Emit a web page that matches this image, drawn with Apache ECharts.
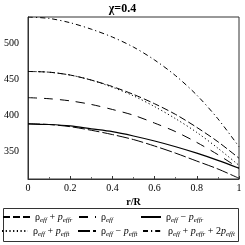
<!DOCTYPE html>
<html><head><meta charset="utf-8">
<script src="https://cdn.jsdelivr.net/npm/echarts@6/dist/echarts.min.js"></script>
<style>html,body{margin:0;padding:0;background:#fff}#c{width:245px;height:245px}</style>
</head><body><div id="c"></div>
<script>
const rValues = [0, 0.1, 0.2, 0.3, 0.4, 0.5, 0.6, 0.7, 0.8, 0.9, 1.0];
const rhoPlusPr = [461, 460, 456, 449, 440, 429, 416, 401, 383, 363, 340];
const rhoPlusPt = [461, 460, 456, 449, 439, 427, 412, 395, 376, 354, 330];
const rho = [424.5, 423, 420, 415, 408, 400, 389, 377, 362, 345, 326];
const rhoMinusPr = [388, 387, 385, 381, 377, 371, 364, 356, 347, 337, 326];
const rhoMinusPt = [388, 387, 384, 379, 373, 366, 357, 347, 336, 325, 312];
const rhoPrPt2 = [537, 535, 529, 520, 509, 495, 477, 455, 428, 395, 356];
const xTicks = [0, 0.2, 0.4, 0.6, 0.8, 1];
const yTickValues = [350, 400, 450, 500];
const yMin = 311, yMax = 537;

const serif = 'Liberation Serif';
const pair = (xs, ys) => xs.map((x, i) => [x, ys[i]]);

const labels = {
  A: '{r|ρ}{s|eff}{o| + }{p|p}{s|effr}',
  C: '{r|ρ}{s|eff}',
  D: '{r|ρ}{s|eff}{o| − }{p|p}{s|effr}',
  B: '{r|ρ}{s|eff}{o| + }{p|p}{s|efft}',
  E: '{r|ρ}{s|eff}{o| − }{p|p}{s|efft}',
  F: '{r|ρ}{s|eff}{o| + 2}{p|p}{s|efft}'
};
labels.F = '{r|ρ}{s|eff}{o| + }{p|p}{s|effr}{o| + 2}{p|p}{s|efft}';
const rich = {
  r: {fontFamily: serif, fontSize: 10, color: '#000', lineHeight: 13},
  o: {fontFamily: serif, fontSize: 10, color: '#000', lineHeight: 13},
  p: {fontFamily: serif, fontSize: 10, fontStyle: 'italic', color: '#000', lineHeight: 13},
  s: {fontFamily: serif, fontSize: 7, fontStyle: 'italic', color: '#000', verticalAlign: 'bottom', lineHeight: 13}
};
function mkLegend(name, left, top, w) {
  return {
    data: [name], left: left, top: top, padding: 0, itemWidth: w, itemHeight: 8, itemGap: 0,
    selectedMode: false, itemStyle: {opacity: 0},
    formatter: n => labels[n],
    textStyle: {rich: rich, fontFamily: serif, fontSize: 10, color: '#000'}
  };
}
function mkSeries(name, data, type, width) {
  return {
    name: name, type: 'line', data: pair(rValues, data), showSymbol: false, symbol: 'none',
    color: '#000', itemStyle: {color: '#000'},
    smooth: 0.3, lineStyle: {color: '#000', width: width || 1, type: type}
  };
}
const chart = echarts.init(document.getElementById('c'), null, {renderer: 'canvas'});
chart.setOption({
  animation: false,
  backgroundColor: '#fff',
  title: {text: 'χ=0.4', left: 'center', top: 3, padding: 0,
    textStyle: {fontFamily: serif, fontWeight: 'bold', fontSize: 12, color: '#000'}},
  grid: {left: 28, right: 6, top: 17, bottom: 66, show: true, borderColor: '#333', borderWidth: 1},
  xAxis: {type: 'value', min: 0, max: 1, interval: 0.2,
    name: 'r/R', nameLocation: 'middle', nameGap: 17,
    nameTextStyle: {fontFamily: serif, fontWeight: 'bold', fontSize: 10, color: '#000'},
    axisLine: {lineStyle: {color: '#333'}},
    axisTick: {inside: true, length: 3, lineStyle: {color: '#333'}},
    minorTick: {show: true, splitNumber: 2, length: 2, lineStyle: {color: '#666'}},
    splitLine: {show: false},
    axisLabel: {margin: 4, fontFamily: serif, fontSize: 10, color: '#000',
      formatter: v => xTicks.some(t => Math.abs(t - v) < 1e-9) ? String(+v.toFixed(1)) : ''}},
  yAxis: {type: 'value', min: yMin, max: yMax, interval: 1,
    axisLine: {show: true, lineStyle: {color: '#333'}},
    axisTick: {show: false}, splitLine: {show: false},
    axisLabel: {margin: 9, fontFamily: serif, fontSize: 10, color: '#000',
      formatter: v => yTickValues.includes(Math.round(v)) && Math.abs(v - Math.round(v)) < 1e-9 ? String(Math.round(v)) : ''}},
  legend: [
    mkLegend('A', 2, 212, 27),
    mkLegend('C', 78, 212, 17),
    mkLegend('D', 140, 212, 20),
    mkLegend('B', 1, 226, 26),
    mkLegend('E', 77, 226, 18),
    mkLegend('F', 142, 226, 20)
  ],
  graphic: [{type: 'rect', shape: {x: 3.5, y: 208.5, width: 235, height: 33},
    style: {fill: 'none', stroke: '#333', lineWidth: 1}, silent: true}],
  series: [
    mkSeries('A', rhoPlusPr, [7, 3]),
    mkSeries('C', rho, [9, 7]),
    mkSeries('D', rhoMinusPr, 'solid', 1.2),
    mkSeries('B', rhoPlusPt, [1.2, 2.5]),
    mkSeries('E', rhoMinusPt, [12, 3]),
    mkSeries('F', rhoPrPt2, [5, 3, 1.2, 3])
  ]
});
</script></body></html>
